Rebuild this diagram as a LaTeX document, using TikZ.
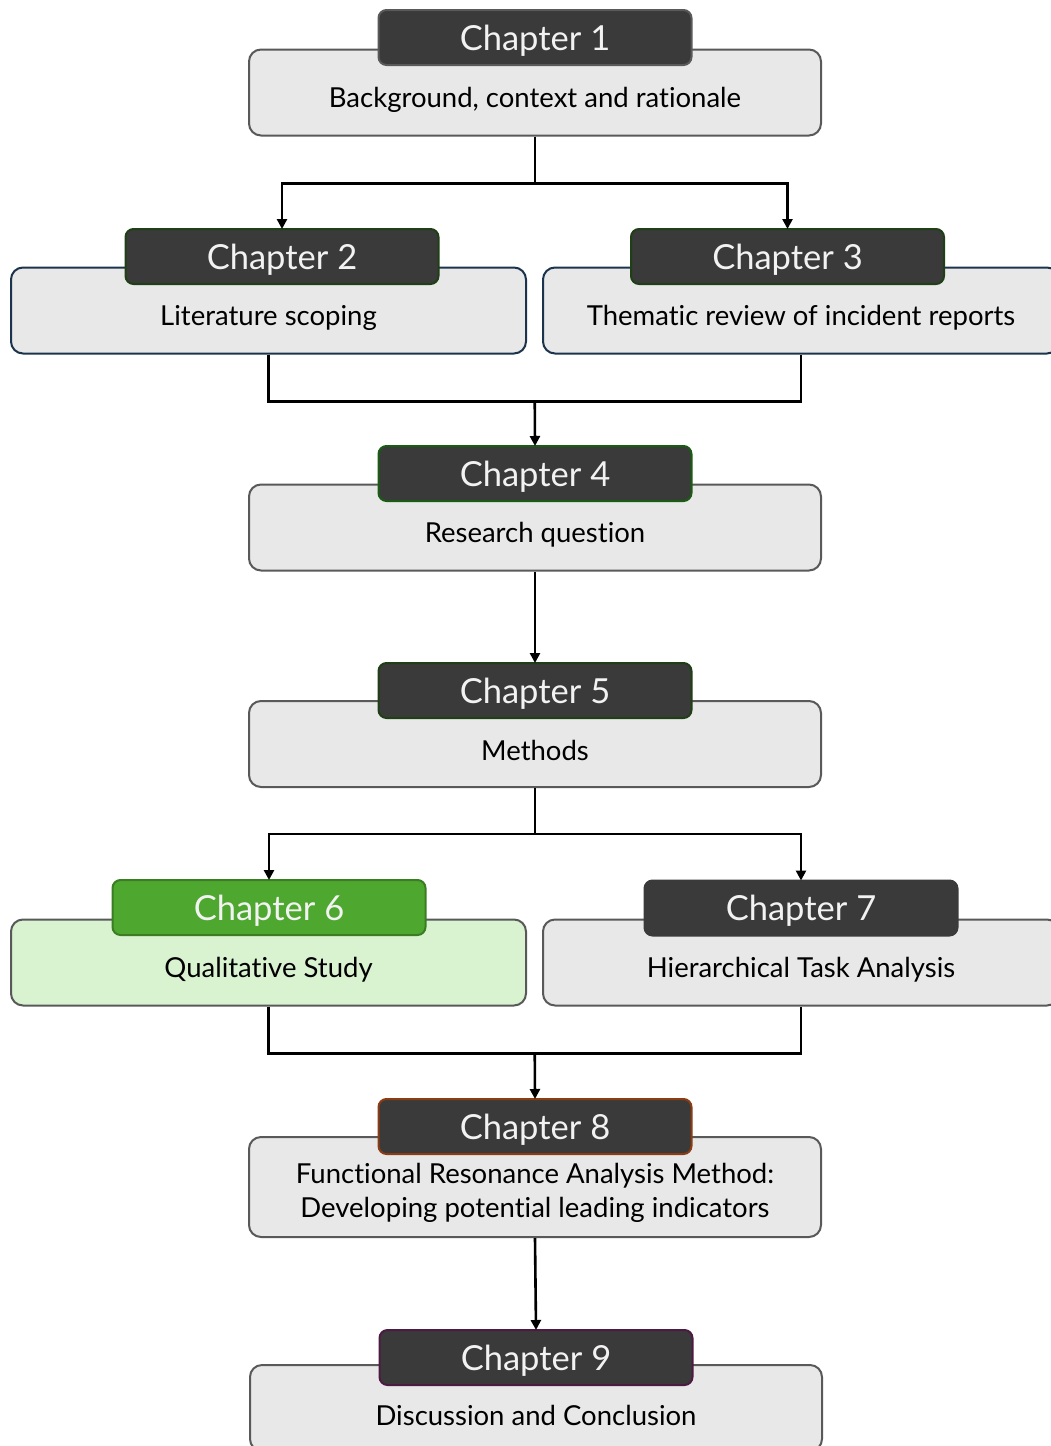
\documentclass[tikz,border=0pt]{standalone}
\usepackage{fontspec}
\setmainfont[Ligatures={NoCommon}]{Lato}
\usetikzlibrary{arrows.meta,calc}

\definecolor{boxfill}{HTML}{E8E8E8}
\definecolor{boxline}{HTML}{595959}
\definecolor{navyline}{HTML}{1C334D}
\definecolor{headfill}{HTML}{3A3A3A}
\definecolor{greenline}{HTML}{1F3F16}
\definecolor{qualfill}{HTML}{D9F2D0}
\definecolor{qualhead}{HTML}{4EA72E}
\definecolor{qualline}{HTML}{3B7D23}
\definecolor{brownline}{HTML}{8B3C12}
\definecolor{purpleline}{HTML}{4D1A44}

\tikzset{
  mainbox/.style={draw=boxline, line width=2pt, fill=boxfill, rounded corners=12pt,
    minimum height=86pt, inner sep=0pt},
  bodytext/.style={inner sep=0pt, text=black, align=center,
    font=\fontsize{27.5}{34}\selectfont},
  headbox/.style={draw=boxline, line width=2pt, fill=headfill, rounded corners=8pt,
    minimum width=313pt, minimum height=55pt, inner sep=0pt},
  headtext/.style={inner sep=0pt, text=white!95!black,
    font=\fontsize{34.5}{40}\selectfont},
  link/.style={line width=2.6pt, draw=black},
  arr/.style={link, -{Triangle[length=10pt,width=10pt]}, shorten >=-1pt},
}

\begin{document}
\begin{tikzpicture}[x=1pt,y=-1pt]
\useasboundingbox (0,0) rectangle (1051,1446);
\clip (0,0) rectangle (1051,1446);

% chapter boxes: body first, then header on top, each with its text
\node[mainbox, minimum width=572pt] (b1) at (535,92.5) {};
\node[bodytext] (t1) at ($(b1.center)+(0,7.5)$) {Background, context and rationale};
\node[headbox] (h1) at (535,37.5) {};
\node[headtext] (c1) at ($(h1.center)+(0,3)$) {Chapter 1};

\node[mainbox, draw=navyline, minimum width=515pt] (b2) at (268.5,310.5) {};
\node[bodytext] (t2) at ($(b2.center)+(0,7.5)$) {Literature scoping};
\node[headbox, draw=greenline] (h2) at (282,256.5) {};
\node[headtext] (c2) at ($(h2.center)+(0,3)$) {Chapter 2};

\node[mainbox, draw=navyline, minimum width=516pt] (b3) at (801,310.5) {};
\node[bodytext] (t3) at ($(b3.center)+(0,7.5)$) {Thematic review of incident reports};
\node[headbox, draw=greenline] (h3) at (787.5,256.5) {};
\node[headtext] (c3) at ($(h3.center)+(0,3)$) {Chapter 3};

\node[mainbox, minimum width=572pt] (b4) at (535,527.5) {};
\node[bodytext] (t4) at ($(b4.center)+(0,7.5)$) {Research question};
\node[headbox, draw=greenline!85!green] (h4) at (535,473.5) {};
\node[headtext] (c4) at ($(h4.center)+(0,3)$) {Chapter 4};

\node[mainbox, minimum width=572pt] (b5) at (535,744) {};
\node[bodytext] (t5) at ($(b5.center)+(0,6)$) {Methods};
\node[headbox, draw=greenline] (h5) at (535,690.5) {};
\node[headtext] (c5) at ($(h5.center)+(0,3)$) {Chapter 5};

\node[mainbox, fill=qualfill, minimum width=515pt] (b6) at (268.5,962.5) {};
\node[bodytext] (t6) at ($(b6.center)+(0,7.5)$) {Qualitative Study};
\node[headbox, fill=qualhead, draw=qualline] (h6) at (269,907.5) {};
\node[headtext] (c6) at ($(h6.center)+(0,3)$) {Chapter 6};

\node[mainbox, minimum width=516pt] (b7) at (801,962.5) {};
\node[bodytext] (t7) at ($(b7.center)+(0,7.5)$) {Hierarchical Task Analysis};
\node[headbox, draw=headfill] (h7) at (801,908) {};
\node[headtext] (c7) at ($(h7.center)+(0,3)$) {Chapter 7};

\node[mainbox, minimum width=572pt, minimum height=100pt] (b8) at (535,1187) {};
\node[bodytext] (t8) at ($(b8.center)+(0,6)$) {Functional Resonance Analysis Method:\\Developing potential leading indicators};
\node[headbox, draw=brownline] (h8) at (535,1126.5) {};
\node[headtext] (c8) at ($(h8.center)+(0,3)$) {Chapter 8};

\node[mainbox, minimum width=572pt] (b9) at (536,1408) {};
\node[bodytext] (t9) at ($(b9.center)+(0,7)$) {Discussion and Conclusion};
\node[headbox, draw=purpleline] (h9) at (536,1357.5) {};
\node[headtext] (c9) at ($(h9.center)+(0,3)$) {Chapter 9};

% connectors
\draw[arr] (b1.south) -- ++(0,47) -| (h2.north);
\draw[arr] (b1.south) -- ++(0,47) -| (h3.north);

\draw[link] (b2.south) -- ++(0,47) -| (b3.south);
\coordinate (m23) at ($(b2.south)!0.5!(b3.south)+(0,47)$);
\draw[arr] (m23) -- (h4.north);

\draw[arr] (b4.south) -- (h5.north);

\draw[arr] (b5.south) -- ++(0,46) -| (h6.north);
\draw[arr] (b5.south) -- ++(0,46) -| (b7.south |- h7.north);

\draw[link] (b6.south) -- ++(0,47) -| (b7.south);
\coordinate (m67) at ($(b6.south)!0.5!(b7.south)+(0,47)$);
\draw[arr] (m67) -- (h8.north);

\draw[arr] (b8.south) -- (h9.north);
\end{tikzpicture}
\end{document}
